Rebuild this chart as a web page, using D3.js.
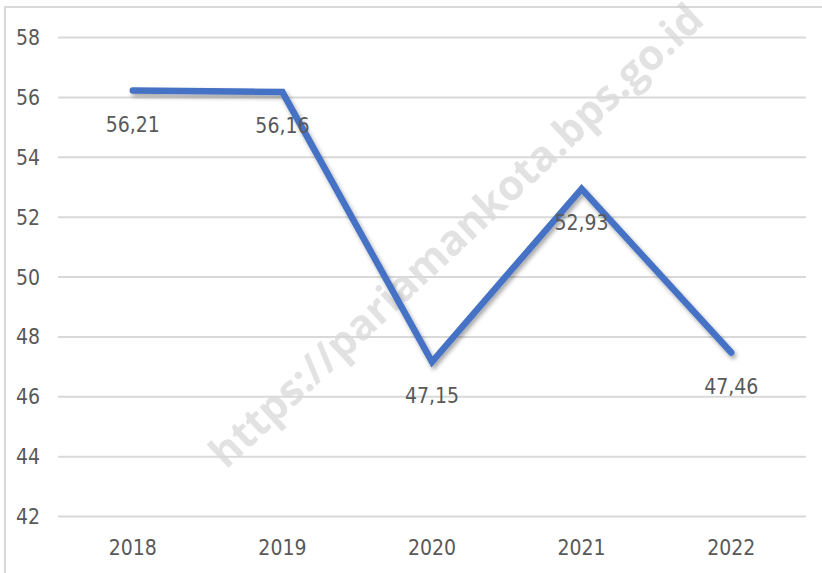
<!DOCTYPE html>
<html>
<head>
<meta charset="utf-8">
<script src="https://cdnjs.cloudflare.com/ajax/libs/d3/7.8.5/d3.min.js"></script>
<style>
  body { margin: 0; background: white; }
  svg text { font-family: "Liberation Sans Narrow", "DejaVu Sans Condensed", sans-serif; }
</style>
</head>
<body>
<svg id="chart" width="822" height="573"></svg>
<script>
var years = ["2018", "2019", "2020", "2021", "2022"];
var values = [56.21, 56.16, 47.15, 52.93, 47.46];
var labels = ["56,21", "56,16", "47,15", "52,93", "47,46"];
var yTicks = [42, 44, 46, 48, 50, 52, 54, 56, 58];

var svg = d3.select("#chart");
var width = 822, height = 573;

var x = d3.scaleBand().domain(years).range([58, 806]);
var y = d3.scaleLinear().domain([42, 58]).range([516, 37]);

// shadow under the line
var defs = svg.append("defs");
defs.append("filter")
  .attr("id", "shadow")
  .attr("x", "-10%").attr("y", "-10%")
  .attr("width", "120%").attr("height", "130%")
  .append("feDropShadow")
  .attr("dx", 2).attr("dy", 3)
  .attr("stdDeviation", 2)
  .attr("flood-color", "#000")
  .attr("flood-opacity", 0.35);

// chart frame (cut by the picture edge)
svg.append("path")
  .attr("d", "M5," + height + "V7H" + width)
  .attr("fill", "none")
  .attr("stroke", "#d9d9d9")
  .attr("stroke-width", 2);

// watermark
svg.append("text")
  .attr("transform", "translate(226,470) rotate(-43)")
  .attr("fill", "#d0d0d0")
  .attr("opacity", 0.6)
  .style("font-family", "'Open Sans', sans-serif")
  .style("font-weight", "bold")
  .style("font-size", "42px")
  .text("https://pariamankota.bps.go.id");

// gridlines + y labels
var yAxis = d3.axisLeft(y).tickValues(yTicks).tickSize(-(806 - 58)).tickPadding(18);
var gy = svg.append("g").attr("transform", "translate(58,0)").call(yAxis);
gy.select(".domain").remove();
gy.selectAll(".tick line").attr("stroke", "#d9d9d9").attr("stroke-width", 2);
gy.selectAll(".tick text")
  .attr("fill", "#595959")
  .style("font-size", "21px")
  .attr("dy", "0.36em");

// x labels
var xAxis = d3.axisBottom(x).tickSize(0).tickPadding(0);
var gx = svg.append("g").attr("transform", "translate(0,516)").call(xAxis);
gx.select(".domain").remove();
gx.selectAll(".tick text")
  .attr("fill", "#595959")
  .attr("y", 39)
  .attr("dy", 0)
  .style("font-size", "21px");

var pts = years.map((d, i) => ({ year: d, value: values[i], label: labels[i] }));

var line = d3.line()
  .x(d => x(d.year) + x.bandwidth() / 2)
  .y(d => y(d.value));

svg.append("path")
  .datum(pts)
  .attr("d", line)
  .attr("fill", "none")
  .attr("stroke", "#4472c4")
  .attr("stroke-width", 6.5)
  .attr("stroke-linecap", "round")
  .attr("stroke-linejoin", "miter")
  .attr("filter", "url(#shadow)");

// data labels below points
svg.selectAll(".lbl")
  .data(pts)
  .enter()
  .append("text")
  .attr("class", "lbl")
  .attr("x", d => x(d.year) + x.bandwidth() / 2)
  .attr("y", d => y(d.value) + 41)
  .attr("text-anchor", "middle")
  .attr("fill", "#595959")
  .style("font-size", "21px")
  .text(d => d.label);
</script>
</body>
</html>
